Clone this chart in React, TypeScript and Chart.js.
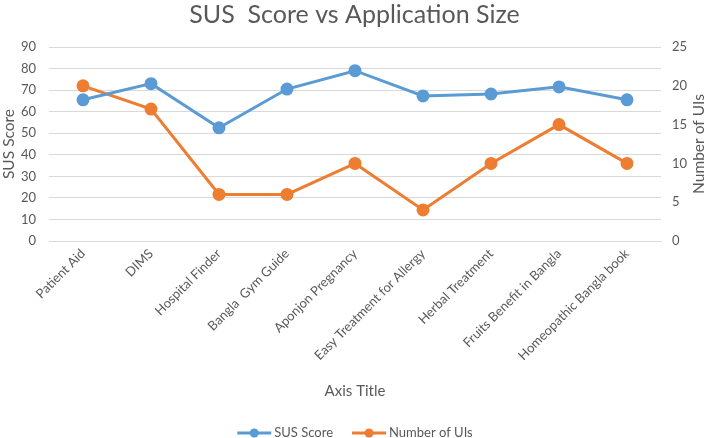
import React, { useEffect, useRef } from "react";
import { Chart, registerables } from "chart.js";

Chart.register(...registerables);

const categories = [
  "Patient Aid",
  "DIMS",
  "Hospital Finder",
  "Bangla  Gym Guide",
  "Aponjon Pregnancy",
  "Easy Treatment for Allergy",
  "Herbal Treatment",
  "Fruits Benefit in Bangla",
  "Homeopathic Bangla book",
];
const susScore = [65.5, 73, 52.5, 70.5, 79, 67.3, 68.2, 71.5, 65.5];
const numberOfUIs = [20, 17, 6, 6, 10, 4, 10, 15, 10];
const rightAxisTitle = "Number of UIs";

const BLUE = "#5B9BD5";
const ORANGE = "#ED7D31";
const TEXT = "#595959";
const GRID = "#D9D9D9";
const FONT = "Lato, 'Open Sans', sans-serif";

const legendPlugin = {
  id: "excelLegend",
  afterDraw(chart: any) {
    const ctx = chart.ctx;
    const items = chart.data.datasets.map((d: any) => ({ label: d.label, color: d.borderColor }));
    ctx.save();
    ctx.font = `13px ${FONT}`;
    const lineW = 34;
    const gap = 3;
    const itemGap = 19;
    const widths = items.map((it: any) => lineW + gap + ctx.measureText(it.label).width);
    const total = widths.reduce((a: number, b: number) => a + b, 0) + itemGap * (items.length - 1);
    let x = 355 - total / 2;
    const y = 433;
    items.forEach((it: any, i: number) => {
      ctx.strokeStyle = it.color;
      ctx.lineWidth = 3;
      ctx.beginPath();
      ctx.moveTo(x, y);
      ctx.lineTo(x + lineW, y);
      ctx.stroke();
      ctx.fillStyle = it.color;
      ctx.beginPath();
      ctx.arc(x + lineW / 2, y, 4.5, 0, Math.PI * 2);
      ctx.fill();
      ctx.fillStyle = TEXT;
      ctx.textAlign = "left";
      ctx.textBaseline = "middle";
      ctx.fillText(it.label, x + lineW + gap, y);
      x += widths[i] + itemGap;
    });
    // right axis title, reading bottom-to-top like the reference
    const s = chart.scales.y1;
    ctx.translate(s.right - 10, (s.top + s.bottom) / 2);
    ctx.rotate(-Math.PI / 2);
    ctx.font = `15.5px ${FONT}`;
    ctx.textAlign = "center";
    ctx.textBaseline = "middle";
    ctx.fillStyle = TEXT;
    ctx.fillText(rightAxisTitle, 0, 0);
    ctx.restore();
  },
};

export default function App() {
  const ref = useRef<HTMLCanvasElement | null>(null);
  useEffect(() => {
    if (!ref.current) return;
    const chart = new Chart(ref.current, {
      type: "line",
      data: {
        labels: categories,
        datasets: [
          {
            label: "SUS Score",
            data: susScore,
            borderColor: BLUE,
            backgroundColor: BLUE,
            borderWidth: 3,
            pointRadius: 5,
            pointBackgroundColor: BLUE,
            pointBorderColor: BLUE,
            yAxisID: "y",
            tension: 0,
          },
          {
            label: "Number of UIs",
            data: numberOfUIs,
            borderColor: ORANGE,
            backgroundColor: ORANGE,
            borderWidth: 3,
            pointRadius: 5,
            pointBackgroundColor: ORANGE,
            pointBorderColor: ORANGE,
            yAxisID: "y1",
            tension: 0,
          },
        ],
      },
      options: {
        responsive: false,
        animation: false,
        layout: { padding: { bottom: 38, top: 0, left: 0, right: 0 } },
        plugins: {
          legend: { display: false },
          tooltip: { enabled: false },
          title: {
            display: true,
            text: "SUS  Score vs Application Size",
            color: TEXT,
            font: { family: FONT, size: 25, weight: "normal", lineHeight: 1.2 },
            padding: { top: 0, bottom: 17 },
          },
        },
        scales: {
          x: {
            offset: true,
            grid: { display: false, drawTicks: false },
            border: { display: true, color: GRID, width: 1 },
            ticks: {
              color: TEXT,
              font: { family: FONT, size: 13 },
              minRotation: 45,
              maxRotation: 45,
              padding: 5,
              autoSkip: false,
            },
            title: {
              display: true,
              text: "Axis Title",
              color: TEXT,
              font: { family: FONT, size: 15 },
              padding: { top: 0, bottom: 0 },
            },
            afterFit(scale: any) {
              scale.height = 159;
            },
          },
          y: {
            position: "left",
            min: 0,
            max: 90,
            ticks: { stepSize: 10, color: TEXT, font: { family: FONT, size: 13 }, padding: 13 },
            grid: { color: GRID, lineWidth: 1, drawTicks: false },
            border: { display: false },
            title: {
              display: true,
              text: "SUS Score",
              color: TEXT,
              font: { family: FONT, size: 15.5 },
              padding: { top: 0, bottom: 0 },
            },
            afterFit(scale: any) {
              scale.width = 49;
            },
          },
          y1: {
            position: "right",
            min: 0,
            max: 25,
            ticks: { stepSize: 5, color: TEXT, font: { family: FONT, size: 13 }, padding: 11 },
            grid: { display: false, drawTicks: false },
            border: { display: false },
            title: { display: false },
            afterFit(scale: any) {
              scale.width = 48;
            },
          },
        },
      },
      plugins: [legendPlugin],
    } as any);
    return () => chart.destroy();
  }, []);
  return (
    <div style={{ position: "fixed", left: 0, top: 0, width: 709, height: 438, background: "#fff" }}>
      <canvas ref={ref} width={709} height={438} style={{ display: "block" }} />
    </div>
  );
}
